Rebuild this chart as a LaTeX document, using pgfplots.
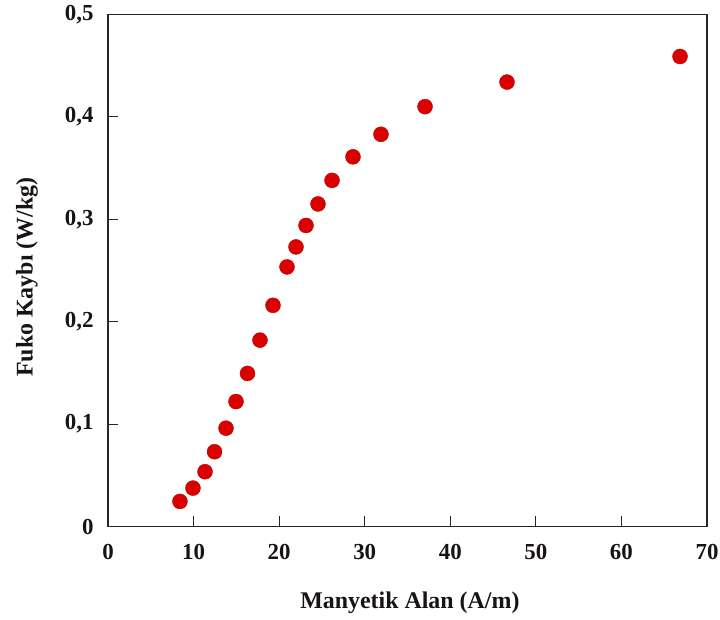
\documentclass[border=0pt]{standalone}
\usepackage{pgfplots}
\pgfplotsset{compat=1.18}
\usepackage{fontspec}
\setmainfont{Liberation Serif}
\definecolor{dotred}{RGB}{218,0,0}
\definecolor{txt}{RGB}{25,20,20}
\begin{document}
\begin{tikzpicture}
\begin{axis}[
    scale only axis,
    width=599bp,
    height=512bp,
    xmin=0, xmax=70,
    ymin=0, ymax=0.5,
    xtick={0,10,...,70},
    ytick={0,0.1,...,0.5},
    xtick pos=left,
    ytick pos=left,
    tick align=inside,
    major tick length=10bp,
    axis line style={line width=1.3bp, black!85},
    tick style={line width=1.1bp, black!85},
    /pgf/number format/assume math mode=true,
    /pgf/number format/use comma,
    /pgf/number format/fixed,
    tick label style={font=\fontsize{23}{27}\selectfont\bfseries, text=txt},
    xticklabel style={yshift=-14bp},
    yticklabel style={xshift=-11bp},
    xlabel={Manyetik Alan (A/m)},
    ylabel={Fuko Kaybı (W/kg)},
    label style={font=\fontsize{24}{28}\selectfont\bfseries, text=txt},
    xlabel style={at={(axis description cs:0.504,0)}, anchor=center, yshift=-76.5bp},
    ylabel style={at={(axis description cs:0,0.487)}, anchor=center, yshift=81bp},
    clip=false
]
% --- measurements ---
\addplot[
    only marks,
    mark=*,
    mark size=7.5bp,
    mark options={fill=dotred, draw=dotred!85!black, line width=0.4bp}
] coordinates {
    (8.41,0.0245)
    (9.93,0.0375)
    (11.34,0.0535)
    (12.45,0.0730)
    (13.79,0.0960)
    (14.96,0.1220)
    (16.30,0.1495)
    (17.76,0.1820)
    (19.28,0.2160)
    (20.92,0.2535)
    (21.97,0.2730)
    (23.14,0.2940)
    (24.54,0.3150)
    (26.18,0.3380)
    (28.63,0.3610)
    (31.90,0.3830)
    (37.05,0.4100)
    (46.63,0.4340)
    (66.85,0.4590)
};
\end{axis}
\pgfresetboundingbox
\path[use as bounding box] (current axis.south west) ++(-108bp,-93.5bp) rectangle ++(720bp,620bp);
\end{tikzpicture}
\end{document}
